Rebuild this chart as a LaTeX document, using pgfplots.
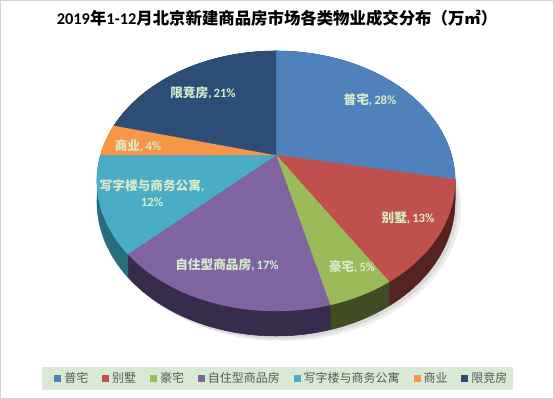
\documentclass[border=0pt]{standalone}
\usepackage{fontspec}
\setmainfont{Noto Sans CJK SC}
\newfontfamily\latn{Carlito}
\usepackage{pgfplots}
\pgfplotsset{compat=1.18}

\definecolor{cA}{RGB}{79,129,189}
\definecolor{cB}{RGB}{192,80,77}
\definecolor{cC}{RGB}{155,187,89}
\definecolor{cD}{RGB}{128,100,162}
\definecolor{cE}{RGB}{75,172,198}
\definecolor{cF}{RGB}{247,150,70}
\definecolor{cG}{RGB}{44,77,117}
\definecolor{sA}{RGB}{40,65,100}
\definecolor{sB}{RGB}{85,35,33}
\definecolor{sC}{RGB}{64,76,36}
\definecolor{sD}{RGB}{56,44,76}
\definecolor{sE}{RGB}{40,108,126}
\definecolor{sF}{RGB}{150,85,40}
\definecolor{sG}{RGB}{25,45,70}
\definecolor{lblc}{RGB}{215,235,200}
\definecolor{leggreen}{RGB}{216,234,212}
\definecolor{legtext}{RGB}{89,89,89}
\definecolor{framec}{RGB}{210,210,210}

% shares in percent (clockwise from 12 o'clock)
\def\pA{28}\def\pB{13}\def\pC{5}\def\pD{17}\def\pE{12}\def\pF{4}\def\pG{21}
\pgfmathsetmacro{\aA}{90}
\pgfmathsetmacro{\aB}{\aA-3.6*\pA}
\pgfmathsetmacro{\aC}{\aB-3.6*\pB}
\pgfmathsetmacro{\aD}{\aC-3.6*\pC}
\pgfmathsetmacro{\aE}{\aD-3.6*\pD}
\pgfmathsetmacro{\aF}{\aE-3.6*\pE}
\pgfmathsetmacro{\aG}{\aF-3.6*\pF}
\pgfmathsetmacro{\aH}{\aG-3.6*\pG}

\newcommand{\topwedge}[3]{%
  \addplot[forget plot, fill=#1, draw=#1, line width=0.3pt, line join=round, domain=#2:#3, samples=70, variable=\t]
    ({px(\t)},{py(\t)}) -- (axis cs:276,244) -- cycle;}
% side wall of slice from angle #2 to #3: top arc, vertical drop, bottom arc back
\newcommand{\sidewall}[3]{%
  \addplot[forget plot, fill=#1, draw=#1, line width=0.4pt, line join=round, domain=0:2.2, samples=221, variable=\s]
    ({px((#2)+((#3)-(#2))*(min(\s,1)-max(\s-1.2,0)))},
     {py((#2)+((#3)-(#2))*(min(\s,1)-max(\s-1.2,0)))
      -min(1,max(0,(\s-1)/0.2))*th((#2)+((#3)-(#2))*(min(\s,1)-max(\s-1.2,0)))}) -- cycle;}
\newcommand{\lbl}[2]{{\bfseries #1}{\latn\bfseries ,\,#2}}

\begin{document}
\begin{tikzpicture}
\begin{axis}[
  width=415.5pt, height=299.25pt, scale only axis,
  xmin=0, xmax=554, ymin=0, ymax=399,
  hide axis, clip=false,
  declare function={
    px(\t)=276+175.4*cos(\t)/(1+0.2*sin(\t));
    py(\t)=244+124.8*sin(\t)/(1+0.2*sin(\t));
    th(\t)=20/(1+0.2*sin(\t));
  },
  legend image code/.code={\fill (0pt,-2.6pt) rectangle (5.2pt,2.6pt);},
  legend columns=7,
  legend style={draw=none, fill=none, inner sep=0pt, row sep=0pt,
    at={(0.0975,0.0514)}, anchor=west,
    nodes={inner sep=0pt, font=\fontsize{9}{10}\selectfont, text=legtext},
    /tikz/every odd column/.append style={column sep=2.3pt},
    /tikz/every even column/.append style={column sep=10.4pt}},
]
% frame and legend background
\draw[framec, line width=0.75pt] (axis cs:0.5,0.5) rectangle (axis cs:553.5,398.5);
\fill[leggreen] (axis cs:42,9) rectangle (axis cs:513,32);
% soft shadow
\addplot[forget plot, fill=black, fill opacity=0.07, draw=none, domain=0:360, samples=120, variable=\t]
  ({px(\t)+6},{py(\t)-th(\t)-5});
\addplot[forget plot, fill=black, fill opacity=0.08, draw=none, domain=0:360, samples=120, variable=\t]
  ({px(\t)+3},{py(\t)-th(\t)-3});
% side walls
\sidewall{sA}{\aB}{\aA}
\sidewall{sB}{\aC}{\aB}
\sidewall{sC}{\aD}{\aC}
\sidewall{sD}{\aE}{\aD}
\sidewall{sE}{\aF}{\aE}
\sidewall{sF}{\aG}{\aF}
\sidewall{sG}{\aH}{\aG}
% top faces
\topwedge{cA}{\aB}{\aA}
\topwedge{cB}{\aC}{\aB}
\topwedge{cC}{\aD}{\aC}
\topwedge{cD}{\aE}{\aD}
\topwedge{cE}{\aF}{\aE}
\topwedge{cF}{\aG}{\aF}
\topwedge{cG}{\aH}{\aG}
% legend
\addlegendimage{fill=cA, draw=none}\addlegendentry{普宅}
\addlegendimage{fill=cB, draw=none}\addlegendentry{别墅}
\addlegendimage{fill=cC, draw=none}\addlegendentry{豪宅}
\addlegendimage{fill=cD, draw=none}\addlegendentry{自住型商品房}
\addlegendimage{fill=cE, draw=none}\addlegendentry{写字楼与商务公寓}
\addlegendimage{fill=cF, draw=none}\addlegendentry{商业}
\addlegendimage{fill=cG, draw=none}\addlegendentry{限竞房}
% data labels
\begin{scope}[every node/.style={text=lblc, font=\fontsize{9.5}{11.5}\selectfont, inner sep=0pt}]
\node at (axis cs:370,299) {\lbl{普宅}{28\%}};
\node at (axis cs:408,181) {\lbl{别墅}{13\%}};
\node at (axis cs:352,132) {\lbl{豪宅}{5\%}};
\node at (axis cs:227,134) {\lbl{自住型商品房}{17\%}};
\node[align=center] at (axis cs:152,206) {{\bfseries 写字楼与商务公寓}{\latn\bfseries ,}\\{\latn\bfseries 12\%}};
\node at (axis cs:138,253) {\lbl{商业}{4\%}};
\node at (axis cs:203,306) {\lbl{限竞房}{21\%}};
\end{scope}
% title
\node[font=\bfseries\fontsize{12.3}{14}\selectfont, text=black] at (axis cs:277,381)
  {{\latn 2019}年{\latn 1-12}月北京新建商品房市场各类物业成交分布（万㎡）};
\end{axis}
\end{tikzpicture}
\end{document}
